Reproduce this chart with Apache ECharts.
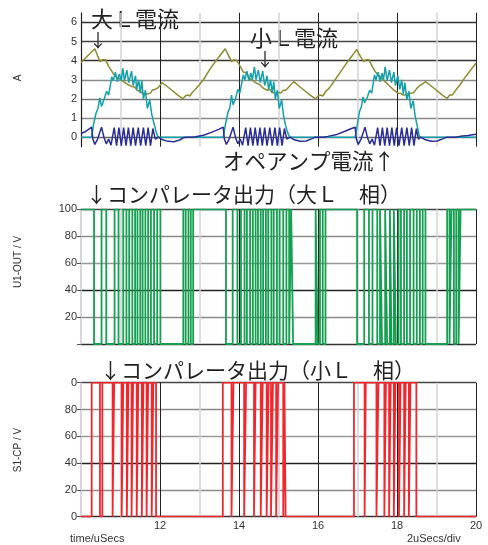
<!DOCTYPE html>
<html><head><meta charset="utf-8">
<script src="https://cdn.jsdelivr.net/npm/echarts@6/dist/echarts.min.js"></script>
<style>html,body{margin:0;padding:0;background:#fff}#c{width:488px;height:545px}</style>
</head><body><div id="c"></div>
<script>
// ---- data ----
const timeTicks = [12, 14, 16, 18, 20];
const currentTickLabels = [0, 1, 2, 3, 4, 5, 6];
const voltTickLabels = [20, 40, 60, 80, 100];

// large-L current (A) [time uS, value]
const largeLCurrent = [
 [10.00,3.90],[10.12,4.15],[10.24,4.40],[10.35,4.62],[10.42,4.25],[10.48,3.95],[10.55,4.05],[10.62,4.05],[10.70,3.70],[10.78,3.45],[10.82,3.30],[10.86,3.40],[10.90,3.15],[10.95,3.20],[11.00,3.00],[11.05,3.05],[11.12,2.85],[11.18,2.75],[11.22,2.80],[11.28,2.65],[11.32,2.60],[11.36,2.62],[11.42,2.45],[11.48,2.40],[11.52,2.45],[11.58,2.28],[11.62,2.32],[11.68,2.25],[11.72,2.35],[11.76,2.30],[11.80,2.45],[11.84,2.40],[11.88,2.50],[11.92,2.45],[11.96,2.60],[12.05,2.85],[12.15,2.70],[12.30,2.45],[12.45,2.20],[12.58,2.00],[12.64,2.15],[12.70,2.20],[12.76,2.15],[12.82,2.35],[12.90,2.50],[12.95,2.55],[13.10,3.00],[13.25,3.50],[13.40,3.95],[13.55,4.35],[13.65,4.62],
 [13.74,4.25],[13.81,3.95],[13.88,4.05],[13.95,4.00],[14.03,3.70],[14.11,3.40],[14.16,3.30],[14.20,3.35],[14.25,3.10],[14.30,3.15],[14.35,2.95],[14.40,3.00],[14.46,2.80],[14.52,2.75],[14.56,2.80],[14.62,2.55],[14.66,2.60],[14.72,2.45],[14.78,2.50],[14.83,2.35],[14.88,2.40],[14.94,2.30],[15.00,2.35],[15.06,2.30],[15.12,2.45],[15.18,2.45],[15.25,2.60],[15.32,2.75],[15.39,2.90],[15.50,2.70],[15.65,2.45],[15.80,2.20],[15.94,2.00],[16.00,2.15],[16.06,2.20],[16.12,2.15],[16.20,2.40],[16.28,2.55],[16.45,3.05],[16.60,3.50],[16.75,3.95],[16.90,4.35],[16.98,4.58],
 [17.08,4.20],[17.16,3.95],[17.22,4.05],[17.29,4.05],[17.36,3.75],[17.44,3.45],[17.50,3.30],[17.55,3.35],[17.60,3.10],[17.65,3.10],[17.70,2.90],[17.75,2.90],[17.80,2.70],[17.85,2.65],[17.90,2.50],[17.96,2.40],[18.02,2.30],[18.08,2.30],[18.14,2.22],[18.20,2.20],[18.26,2.25],[18.30,2.22],[18.35,2.30],[18.42,2.32],[18.50,2.55],[18.58,2.70],[18.66,2.80],[18.72,2.90],[18.85,2.70],[19.00,2.45],[19.15,2.20],[19.27,2.02],[19.33,2.20],[19.40,2.20],[19.45,2.35],[19.49,2.46],[19.60,2.75],[19.75,3.20],[19.90,3.60],[20.00,3.86]
];

// small-L current (A)
const smallLCurrent = [
 [10.00,0],[10.27,0],[10.32,0.70],[10.38,1.25],[10.43,1.50],[10.48,2.05],[10.52,1.60],[10.58,1.95],[10.65,2.40],[10.70,2.20],[10.78,3.15],[10.82,2.95],[10.87,3.40],[10.92,2.90],[10.97,3.30],[11.02,2.95],[11.06,3.60],[11.10,2.95],[11.16,3.50],[11.21,2.85],[11.28,3.45],[11.32,2.70],[11.38,3.20],[11.41,2.50],[11.46,3.00],[11.50,2.30],[11.54,2.95],[11.58,2.00],[11.63,2.45],[11.68,1.50],[11.74,1.95],[11.79,1.20],[11.85,0.70],[11.90,0.30],[11.95,0],
 [13.60,0],[13.66,0.70],[13.72,1.30],[13.77,1.55],[13.81,2.20],[13.85,1.70],[13.91,2.00],[13.97,2.50],[14.02,2.30],[14.11,3.25],[14.15,3.00],[14.20,3.45],[14.25,2.95],[14.30,3.35],[14.34,3.00],[14.39,3.68],[14.43,3.00],[14.49,3.50],[14.54,2.85],[14.60,3.45],[14.65,2.70],[14.71,3.20],[14.75,2.50],[14.80,3.00],[14.84,2.30],[14.88,2.90],[14.92,2.00],[14.97,2.45],[15.02,1.50],[15.08,1.95],[15.13,1.10],[15.18,0.60],[15.23,0.25],[15.28,0],
 [16.94,0],[17.00,0.70],[17.05,1.33],[17.10,1.60],[17.14,2.10],[17.18,1.80],[17.25,2.10],[17.31,2.46],[17.36,2.30],[17.43,3.25],[17.47,3.00],[17.52,3.40],[17.57,2.90],[17.62,3.35],[17.66,3.00],[17.70,3.68],[17.75,2.95],[17.81,3.50],[17.86,2.85],[17.92,3.40],[17.96,2.70],[18.02,3.20],[18.07,2.50],[18.12,3.00],[18.16,2.25],[18.20,2.85],[18.25,1.95],[18.30,2.40],[18.35,1.50],[18.41,1.90],[18.46,1.10],[18.51,0.60],[18.55,0.20],[18.57,0],[20.00,0]
];

// op-amp current (A)
const opampCurrent = [
 [10.00,0.18],[10.10,0.28],[10.20,0.42],[10.27,0.52],[10.30,-0.10],[10.35,-0.38],[10.42,-0.10],[10.52,0.52],[10.58,0.00],[10.64,-0.35],[10.70,-0.10],[10.76,-0.42],[10.84,0.50],[10.90,-0.45],[10.96,0.50],[11.02,-0.45],[11.08,0.50],[11.14,-0.45],[11.20,0.50],[11.26,-0.45],[11.32,0.50],[11.38,-0.45],[11.45,0.50],[11.51,-0.45],[11.58,0.50],[11.64,-0.45],[11.70,0.50],[11.76,-0.45],[11.82,0.45],[11.88,-0.10],[11.96,0.00],[12.05,-0.12],[12.20,-0.22],[12.35,-0.24],[12.50,-0.15],[12.60,-0.02],[12.65,0.08],[12.70,0.00],[12.75,0.05],[12.80,0.00],[12.85,0.08],[12.90,0.02],[13.10,0.10],[13.30,0.25],[13.50,0.42],[13.60,0.52],
 [13.63,-0.10],[13.68,-0.38],[13.75,-0.10],[13.85,0.52],[13.91,0.00],[13.97,-0.35],[14.03,-0.10],[14.09,-0.42],[14.17,0.50],[14.23,-0.45],[14.29,0.50],[14.35,-0.45],[14.41,0.50],[14.47,-0.45],[14.53,0.50],[14.59,-0.45],[14.65,0.50],[14.71,-0.45],[14.78,0.50],[14.84,-0.45],[14.91,0.50],[14.97,-0.45],[15.03,0.50],[15.09,-0.45],[15.15,0.45],[15.21,-0.10],[15.29,0.00],[15.40,-0.14],[15.55,-0.22],[15.70,-0.20],[15.85,-0.08],[15.93,0.00],[15.98,0.08],[16.03,0.00],[16.08,0.05],[16.13,0.00],[16.18,0.06],[16.25,0.04],[16.45,0.12],[16.65,0.28],[16.85,0.45],[16.94,0.52],
 [16.97,-0.10],[17.02,-0.38],[17.09,-0.10],[17.19,0.52],[17.25,0.00],[17.31,-0.35],[17.37,-0.10],[17.43,-0.42],[17.51,0.50],[17.57,-0.45],[17.63,0.50],[17.69,-0.45],[17.75,0.50],[17.81,-0.45],[17.87,0.50],[17.93,-0.45],[17.99,0.50],[18.05,-0.45],[18.12,0.50],[18.18,-0.45],[18.25,0.50],[18.31,-0.45],[18.37,0.50],[18.43,-0.45],[18.49,0.45],[18.54,-0.10],[18.60,0.00],[18.72,-0.14],[18.87,-0.22],[19.02,-0.20],[19.17,-0.08],[19.26,0.00],[19.31,0.08],[19.36,0.00],[19.41,0.05],[19.46,0.00],[19.51,0.06],[19.60,0.04],[19.80,0.08],[20.00,0.15]
];

// comparator (large L phase) U1-OUT: starts high, switches at these times
const compLargeStart = 100;
const compLargeToggles = [10.33,10.52,10.64,10.85,10.95,11.07,11.15,11.22,11.30,11.37,11.43,11.50,11.56,11.63,11.70,11.77,11.85,11.93,12.01,
 12.59,12.65,12.72,12.78,12.84,
 13.67,13.84,13.96,14.05,14.14,14.20,14.28,14.35,14.42,14.48,14.55,14.61,14.68,14.74,14.82,14.88,14.96,15.03,15.12,15.20,15.27,15.32,15.37,
 15.94,15.99,16.05,16.12,16.19,
 16.99,17.17,17.29,17.38,17.50,17.57,17.62,17.70,17.75,17.82,17.86,17.92,17.97,18.04,18.10,18.18,18.25,18.33,18.42,18.50,18.58,18.65,18.72,
 19.27,19.33,19.38,19.44,19.50,19.56,19.61];

// comparator (small L phase) S1-CP: starts low
const compSmallStart = 0;
const compSmallToggles = [10.27,10.48,10.54,10.80,10.84,11.03,11.07,11.16,11.20,11.28,11.32,11.41,11.45,11.54,11.58,11.66,11.70,11.79,11.83,11.90,
 13.59,13.81,13.86,14.13,14.18,14.38,14.42,14.55,14.60,14.70,14.75,14.81,14.86,14.94,14.99,15.12,15.15,15.18,
 16.91,17.18,17.21,17.48,17.53,17.68,17.72,17.80,17.84,17.92,17.96,18.05,18.09,18.18,18.22,18.30,18.34,18.49];

// ---- build ----
function stepData(start, toggles, t0, t1) {
  const pts = [[t0, start]];
  let lv = start;
  toggles.forEach(t => { pts.push([t, lv]); lv = lv === 100 ? 0 : 100; pts.push([t, lv]); });
  pts.push([t1, lv]);
  return pts;
}

const FONT = '"Liberation Sans", Arial, sans-serif';
const JP = '"Noto Sans CJK JP", sans-serif';
const grids = [
  {left: 81, right: 12, top: 12.8, height: 133.9},
  {left: 81, right: 12, top: 209.3, height: 134.7},
  {left: 81, right: 12, top: 382.7, height: 134}
];

function xAxis(i) {
  return {
    type: 'value', gridIndex: i, min: 10, max: 20, interval: 2,
    axisLine: {show: false}, axisTick: {show: false},
    axisLabel: {show: i === 2, fontSize: 11, color: '#333', fontFamily: FONT, margin: 4,
      formatter: v => timeTicks.includes(v) ? String(v) : ''},
    splitLine: {show: true, showMinLine: false, showMaxLine: true, lineStyle: {color: '#222', width: 1}},
    minorTick: {show: true, splitNumber: 2, length: 0, lineStyle: {opacity: 0}},
    minorSplitLine: {show: true, lineStyle: {color: '#d2d2da', width: 1.5}}
  };
}

const T = 'rgba(0,0,0,0)';
const yAxes = [
  {type: 'value', gridIndex: 0, min: -0.5, max: 6.5, interval: 0.5,
   axisLine: {show: true, lineStyle: {color: '#222', width: 1.2}}, axisTick: {show: false},
   axisLabel: {fontSize: 11, color: '#333', fontFamily: FONT, margin: 4,
     formatter: v => currentTickLabels.includes(v) ? String(v) : ''},
   splitLine: {show: true, showMinLine: true, showMaxLine: true,
     lineStyle: {width: 1.4, color: [T,'#666',T,'#8a8a8a',T,'#777',T,'#8a8a8a',T,'#333',T,'#444',T,'#333',T]}}},
  {type: 'value', gridIndex: 1, min: 0, max: 100, interval: 20,
   axisLine: {show: true, lineStyle: {color: '#c8c8d0', width: 1.5}},
   axisTick: {show: true, length: 4, lineStyle: {color: '#555'}},
   axisLabel: {fontSize: 11, color: '#333', fontFamily: FONT, margin: 4,
     formatter: v => voltTickLabels.includes(v) ? String(v) : ''},
   splitLine: {show: true, showMinLine: true, showMaxLine: true,
     lineStyle: {width: 1.3, color: ['#333','#8a8a8a','#222','#999','#8a8a8a','#444']}}},
  {type: 'value', gridIndex: 2, min: 0, max: 100, interval: 20,
   axisLine: {show: true, lineStyle: {color: '#c8c8d0', width: 1.5}},
   axisTick: {show: true, length: 4, lineStyle: {color: '#555'}},
   axisLabel: {fontSize: 11, color: '#333', fontFamily: FONT, margin: 4,
     formatter: v => v === 100 ? '0' : String(v)},
   splitLine: {show: true, showMinLine: true, showMaxLine: true,
     lineStyle: {width: 1.3, color: ['#333','#8a8a8a','#222','#999','#8a8a8a','#444']}}}
];

function line(data, color, xi, width) {
  return {type: 'line', data, xAxisIndex: xi, yAxisIndex: xi, showSymbol: false, symbol: 'none',
    lineStyle: {color, width: width || 1.5}, animation: false, silent: true};
}

function txt(x, y, text, font, extra) {
  return {type: 'text', x, y, silent: true,
    style: Object.assign({text, font, fill: '#222', verticalAlign: 'middle', align: 'left'}, (extra || {}))};
}

const chart = echarts.init(document.getElementById('c'), null, {renderer: 'canvas'});
chart.setOption({
  animation: false,
  backgroundColor: '#fff',
  grid: grids,
  xAxis: [xAxis(0), xAxis(1), xAxis(2)],
  yAxis: yAxes,
  series: [
    line(largeLCurrent, '#8c8c32', 0),
    line(smallLCurrent, '#14a0aa', 0),
    line(opampCurrent, '#2a2e92', 0),
    line(stepData(compLargeStart, compLargeToggles, 10, 20), '#14a050', 1, 1.8),
    line(stepData(compSmallStart, compSmallToggles, 10, 20), '#f0282d', 2, 1.8)
  ],
  graphic: [
    {type: 'text', x: 18, y: 78, rotation: Math.PI / 2, style: {text: 'A', font: '10px ' + FONT, fill: '#333', align: 'center', verticalAlign: 'middle'}},
    {type: 'text', x: 18, y: 262, rotation: Math.PI / 2, style: {text: 'U1-OUT / V', font: '10px ' + FONT, fill: '#333', align: 'center', verticalAlign: 'middle'}},
    {type: 'text', x: 18, y: 450, rotation: Math.PI / 2, style: {text: 'S1-CP / V', font: '10px ' + FONT, fill: '#333', align: 'center', verticalAlign: 'middle'}},
    txt(70, 539, 'time/uSecs', '11px ' + FONT, {fill: '#333'}),
    txt(407, 539, '2uSecs/div', '11px ' + FONT, {fill: '#333'}),
    txt(91, 19, '大Ｌ電流', '22px ' + JP),
    txt(89, 40, '↓', '18px ' + JP),
    txt(250, 38, '小Ｌ電流', '22px ' + JP),
    txt(256, 59, '↓', '18px ' + JP),
    txt(223, 161, 'オペアンプ電流↑', '21.5px ' + JP),
    txt(86, 194, '↓コンパレータ出力（大Ｌ　相）', '21px ' + JP),
    txt(100, 370, '↓コンパレータ出力（小Ｌ　相）', '21px ' + JP)
  ]
});
</script>
</body></html>
